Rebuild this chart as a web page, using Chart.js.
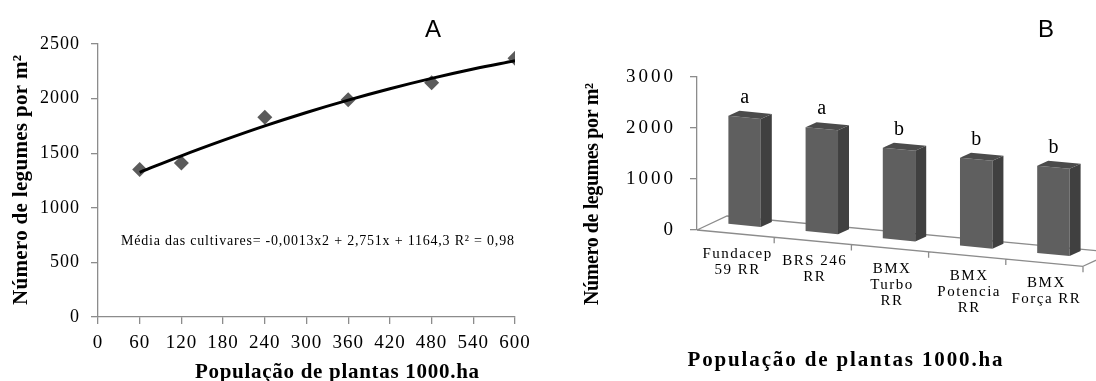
<!DOCTYPE html>
<html>
<head>
<meta charset="utf-8">
<script src="https://cdn.jsdelivr.net/npm/chart.js@4.4.1/dist/chart.umd.min.js"></script>
<style>
  html, body { margin: 0; padding: 0; background: #fff; }
  #wrap { position: relative; width: 1096px; height: 381px; overflow: hidden; }
  canvas { position: absolute; top: 0; }
  #chartA { left: 0; }
  #chartB { left: 548px; }
</style>
</head>
<body>
<div id="wrap">
  <canvas id="chartA" width="548" height="381"></canvas>
  <canvas id="chartB" width="548" height="381"></canvas>
</div>
<script>
// Painel A - número de legumes x população de plantas
const populacao = [60, 120, 240, 360, 480, 600];
const legumesMedia = [1350, 1410, 1830, 1990, 2145, 2370];
// curva de tendência
const tendX = [60, 120, 180, 240, 300, 360, 420, 480, 540, 600];
const tendY = [1325, 1476, 1617, 1750, 1873, 1986, 2090, 2185, 2271, 2347];
const ticksXA = [0, 60, 120, 180, 240, 300, 360, 420, 480, 540, 600];
const ticksYA = [0, 500, 1000, 1500, 2000, 2500];
const equacao = 'Média das cultivares= -0,0013x2 + 2,751x + 1164,3 R² = 0,98';

// Painel B - cultivares
const cultivares = [['Fundacep', '59 RR'], ['BRS 246', 'RR'], ['BMX', 'Turbo', 'RR'], ['BMX', 'Potencia', 'RR'], ['BMX', 'Força RR']];
const legumesCultivar = [2130, 2050, 1790, 1735, 1720];
const letras = ['a', 'a', 'b', 'b', 'b'];
const ticksYB = [0, 1000, 2000, 3000];

const tituloY = 'Número de legumes por m²';
const tituloX = 'População de plantas 1000.ha';

const serif = "'Liberation Serif', 'Times New Roman', serif";
const cinza = '#8c8c8c';

// escreve o texto ajustando o espaçamento até a largura desejada
function textoLargura(ctx, texto, x, y, largura) {
  ctx.letterSpacing = '0px';
  const w = ctx.measureText(texto).width;
  const s = (largura - w) / (texto.length - 1);
  ctx.letterSpacing = s.toFixed(2) + 'px';
  const dx = ctx.textAlign === 'center' ? s / 2 : 0;
  ctx.fillText(texto, x + dx, y);
}

const textosA = {
  id: 'textosA',
  beforeDraw(chart) { chart.ctx.letterSpacing = '1px'; },
  afterDraw(chart) {
    const ctx = chart.ctx;
    ctx.save();
    ctx.fillStyle = '#000';
    ctx.textBaseline = 'alphabetic';
    ctx.letterSpacing = '0px';
    ctx.font = "24px 'Liberation Sans', Arial, sans-serif";
    ctx.textAlign = 'center';
    ctx.fillText('A', 433, 37);

    ctx.font = `14px ${serif}`;
    ctx.textAlign = 'left';
    textoLargura(ctx, equacao, 121, 245, 393);

    ctx.font = `bold 21px ${serif}`;
    ctx.textAlign = 'center';
    textoLargura(ctx, tituloX, 337, 378, 284);

    ctx.translate(27, 180);
    ctx.rotate(-Math.PI / 2);
    ctx.font = `bold 21px ${serif}`;
    textoLargura(ctx, tituloY, 0, 0, 250);
    ctx.restore();
  }
};

new Chart(document.getElementById('chartA'), {
  type: 'scatter',
  data: {
    datasets: [
      {
        type: 'line',
        data: tendX.map((x, i) => ({ x: x, y: tendY[i] })),
        borderColor: '#000',
        borderWidth: 3,
        pointRadius: 0,
        tension: 0.4,
        fill: false
      },
      {
        data: populacao.map((x, i) => ({ x: x, y: legumesMedia[i] })),
        pointStyle: 'rectRot',
        pointRadius: 7.5,
        backgroundColor: '#5b5b5b',
        borderColor: '#5b5b5b',
        borderWidth: 0
      }
    ]
  },
  options: {
    responsive: false,
    animation: false,
    layout: { padding: { top: 44, right: 33, left: 0, bottom: 0 } },
    plugins: { legend: { display: false }, tooltip: { enabled: false } },
    scales: {
      x: {
        type: 'linear', min: 0, max: 600,
        afterBuildTicks: s => { s.ticks = ticksXA.map(v => ({ value: v })); },
        afterFit: s => { s.height = 64; },
        grid: { drawOnChartArea: false, tickLength: 7, color: cinza, lineWidth: 1.3 },
        border: { color: cinza, width: 1.3 },
        ticks: { font: { family: serif, size: 19 }, color: '#000', padding: 8, maxRotation: 0, autoSkip: false, callback: v => String(v) }
      },
      y: {
        min: 0, max: 2500,
        afterBuildTicks: s => { s.ticks = ticksYA.map(v => ({ value: v })); },
        afterFit: s => { s.width = 98; },
        grid: { drawOnChartArea: false, tickLength: 7, color: cinza, lineWidth: 1.3 },
        border: { color: cinza, width: 1.3 },
        ticks: { font: { family: serif, size: 18 }, color: '#000', padding: 11, callback: v => String(v) }
      }
    }
  },
  plugins: [textosA]
});

// perspectiva simples do painel B
const K = 0.094;            // inclinação do piso
const OX = 9, OY = -7.6;    // barras ficam no meio do piso
const PROF = [11, -5];      // profundidade das barras
const PISO = [30, -14];     // profundidade do piso

function poligono(ctx, pts, cor) {
  ctx.beginPath();
  ctx.moveTo(pts[0][0], pts[0][1]);
  for (let i = 1; i < pts.length; i++) ctx.lineTo(pts[i][0], pts[i][1]);
  ctx.closePath();
  ctx.fillStyle = cor;
  ctx.fill();
}

const barras3d = {
  id: 'barras3d',
  beforeDraw(chart) { chart.ctx.letterSpacing = '3px'; },
  beforeDatasetsDraw(chart) {
    const { ctx, chartArea: a, scales: { x, y } } = chart;
    const y0 = y.getPixelForValue(0);
    const larg = x.getPixelForValue(1) - x.getPixelForValue(0);
    const fr = [a.right, y0 + K * (a.right - a.left)];

    ctx.save();
    ctx.strokeStyle = cinza;
    ctx.lineWidth = 1.3;
    ctx.beginPath();
    ctx.moveTo(a.left, y0);
    ctx.lineTo(fr[0], fr[1]);
    ctx.moveTo(a.left, y0);
    ctx.lineTo(a.left + PISO[0], y0 + PISO[1]);
    ctx.lineTo(fr[0] + PISO[0], fr[1] + PISO[1]);
    ctx.lineTo(fr[0], fr[1]);
    for (let i = 1; i <= cultivares.length; i++) {
      const tx = x.getPixelForValue(i - 1) + larg / 2;
      const ty = y0 + K * (tx - a.left);
      ctx.moveTo(tx, ty);
      ctx.lineTo(tx, ty + 6);
    }
    ctx.stroke();
    ctx.restore();

    ctx.save();
    ctx.transform(1, K, 0, 1, OX, OY - K * a.left);
  },
  afterDatasetsDraw(chart) {
    const { ctx, chartArea: a } = chart;
    ctx.restore();
    const p = (px, py) => [px + OX, py + K * (px - a.left) + OY];
    ctx.save();
    chart.getDatasetMeta(0).data.forEach((bar, i) => {
      const { x: cx, y: topo, base, width } = bar.getProps(['x', 'y', 'base', 'width'], true);
      const tl = p(cx - width / 2, topo), tr = p(cx + width / 2, topo), br = p(cx + width / 2, base);
      const m = q => [q[0] + PROF[0], q[1] + PROF[1]];
      poligono(ctx, [tr, m(tr), m(br), br], '#404040');
      poligono(ctx, [tl, m(tl), m(tr), tr], '#4b4b4b');
      ctx.fillStyle = '#000';
      ctx.font = `20px ${serif}`;
      ctx.letterSpacing = '0px';
      ctx.textAlign = 'center';
      ctx.textBaseline = 'middle';
      ctx.fillText(letras[i], (tl[0] + tr[0]) / 2, (tl[1] + tr[1]) / 2 - 20);
    });
    ctx.restore();
  },
  afterDraw(chart) {
    const { ctx, chartArea: a, scales: { x, y } } = chart;
    const y0 = y.getPixelForValue(0);
    ctx.save();
    ctx.fillStyle = '#000';
    ctx.textAlign = 'center';
    ctx.textBaseline = 'middle';
    ctx.font = `15px ${serif}`;
    ctx.letterSpacing = '1.5px';
    cultivares.forEach((linhas, i) => {
      const cx = x.getPixelForValue(i);
      const ey = y0 + K * (cx - a.left);
      linhas.forEach((t, j) => ctx.fillText(t, cx + 2, ey + 20.5 + j * 16));
    });

    ctx.textBaseline = 'alphabetic';
    ctx.letterSpacing = '0px';
    ctx.font = "24px 'Liberation Sans', Arial, sans-serif";
    ctx.fillText('B', 498, 37);

    ctx.font = `bold 21px ${serif}`;
    textoLargura(ctx, tituloX, 297, 366, 315);

    ctx.translate(50, 194);
    ctx.rotate(-Math.PI / 2);
    ctx.font = `bold 20px ${serif}`;
    textoLargura(ctx, tituloY, 0, 0, 222);
    ctx.restore();
  }
};

new Chart(document.getElementById('chartB'), {
  type: 'bar',
  data: {
    labels: cultivares,
    datasets: [{
      data: legumesCultivar,
      backgroundColor: '#5f5f5f',
      borderWidth: 0,
      barPercentage: 0.42,
      categoryPercentage: 1,
      clip: false
    }]
  },
  options: {
    responsive: false,
    animation: false,
    layout: { padding: { left: 0, top: 77, right: 13, bottom: 151 } },
    plugins: { legend: { display: false }, tooltip: { enabled: false } },
    scales: {
      x: { display: false },
      y: {
        min: 0, max: 3000,
        afterBuildTicks: s => { s.ticks = ticksYB.map(v => ({ value: v })); },
        afterFit: s => { s.width = 149; },
        grid: { drawOnChartArea: false, tickLength: 7, color: cinza, lineWidth: 1.3 },
        border: { color: cinza, width: 1.3 },
        ticks: { font: { family: serif, size: 19 }, color: '#000', padding: 14, callback: v => String(v) }
      }
    }
  },
  plugins: [barras3d]
});
</script>
</body>
</html>
